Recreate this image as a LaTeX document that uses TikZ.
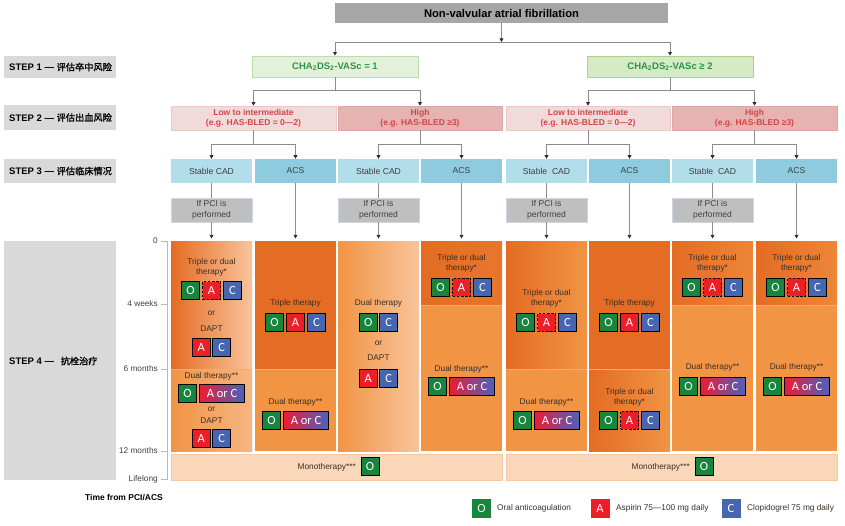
\documentclass[tikz,border=0pt]{standalone}
\usepackage{fontspec}
\setmainfont{Liberation Sans}
\newfontfamily\cjk[FakeBold=1.2]{Noto Sans CJK SC}
\newfontfamily\lettf{Carlito}
\usetikzlibrary{arrows.meta}
\definecolor{topgray}{RGB}{166,166,166}
\definecolor{stepg}{RGB}{217,217,217}
\definecolor{chaAf}{RGB}{228,241,218}
\definecolor{chaAd}{RGB}{190,222,168}
\definecolor{chaBf}{RGB}{214,234,198}
\definecolor{chaBd}{RGB}{170,210,140}
\definecolor{chat}{RGB}{40,150,65}
\definecolor{lowf}{RGB}{243,218,218}
\definecolor{lowd}{RGB}{238,200,200}
\definecolor{highf}{RGB}{230,178,178}
\definecolor{highd}{RGB}{224,165,165}
\definecolor{redt}{RGB}{208,72,72}
\definecolor{scf}{RGB}{178,221,234}
\definecolor{acsf}{RGB}{142,203,222}
\definecolor{pcif}{RGB}{191,191,191}
\definecolor{pcid}{RGB}{205,215,230}
\definecolor{txt}{RGB}{64,64,64}
\definecolor{coltxt}{RGB}{58,46,38}
\definecolor{lineg}{RGB}{140,140,140}
\definecolor{arrowc}{RGB}{45,45,45}
\definecolor{oD}{RGB}{228,108,36}
\definecolor{oM}{RGB}{241,148,68}
\definecolor{oL}{RGB}{248,196,155}
\definecolor{oLL}{RGB}{246,182,130}
\definecolor{peach}{RGB}{251,215,185}
\definecolor{peachd}{RGB}{246,200,165}
\definecolor{sepc}{RGB}{246,172,112}
\definecolor{axisg}{RGB}{185,185,185}
\definecolor{cO}{RGB}{22,133,62}
\definecolor{cA}{RGB}{236,30,38}
\definecolor{cC}{RGB}{70,102,178}
\definecolor{cAr}{RGB}{236,28,52}
\definecolor{cMg}{RGB}{224,36,150}
\definecolor{cCr}{RGB}{74,98,190}
\newcommand\TripleSet[4]{\node[oac] (#1O) at ({#2-21},#3) {O};\node[#4] (#1A) at (#2,#3) {A};\node[clo] (#1C) at ({#2+21},#3) {C};}
\newcommand\PairAC[3]{\node[asp] (#1A) at ({#2-10.25},#3) {A};\node[clo] (#1C) at ({#2+10.25},#3) {C};}
\newcommand\PairOC[3]{\node[oac] (#1O) at ({#2-10.25},#3) {O};\node[clo] (#1C) at ({#2+10.25},#3) {C};}
\newcommand\PairOAC[3]{\node[oac] (#1O) at ({#2-24},#3) {O};\node[aorc] (#1X) at ({#2+10.5},#3) {A or C};}
\begin{document}
\begin{tikzpicture}[x=1pt,y=-1pt,
  line/.style={draw=lineg,line width=0.8pt},
  arr/.style={line,-{Triangle[length=3.6pt,width=3.8pt,color=arrowc]}},
  lbl/.style={inner sep=0,align=center,text=coltxt,font=\fontsize{8.3}{10}\selectfont},
  drug/.style={draw=black,line width=0.9pt,minimum width=18pt,minimum height=18pt,inner sep=0,outer sep=0,text=white,font=\lettf\fontsize{12.5}{12.5}\selectfont},
  oac/.style={drug,fill=cO},
  asp/.style={drug,fill=cA},
  aspd/.style={drug,fill=cA,dashed,dash pattern=on 2.6pt off 1.6pt},
  clo/.style={drug,fill=cC},
  aorc/.style={drug,minimum width=45pt,left color=cAr,middle color=cMg,right color=cCr},
  legbox/.style={minimum width=19pt,minimum height=19pt,inner sep=0,text=white,font=\lettf\fontsize{12.5}{12.5}\selectfont},
  legtxt/.style={inner sep=0,anchor=west,text=coltxt,font=\fontsize{8.3}{10}\selectfont},
  seg/.style={inner sep=0,outer sep=0,minimum width=81pt},
  sep/.style={draw=sepc,line width=0.8pt},
  stepbox/.style={fill=stepg,minimum width=112pt,inner sep=0,outer sep=0},
  steptxt/.style={inner sep=0,anchor=west,text=black,font=\bfseries\fontsize{9.5}{11}\selectfont},
  chab/.style={minimum width=166pt,minimum height=21pt,line width=0.8pt,inner sep=0,text=chat,font=\bfseries\fontsize{9.5}{11}\selectfont},
  riskb/.style={line width=0.6pt,minimum height=24pt,inner sep=0,align=center,text=redt,font=\bfseries\fontsize{8.5}{10}\selectfont},
  clin/.style={minimum width=81pt,minimum height=24pt,inner sep=0,text=txt,font=\fontsize{8.6}{10}\selectfont},
  pci/.style={fill=pcif,draw=pcid,line width=0.6pt,minimum width=81pt,minimum height=24pt,inner sep=0,align=center,text=txt,font=\fontsize{8.5}{10.5}\selectfont},
  axis/.style={draw=axisg,line width=0.8pt},
  tick/.style={inner sep=0,anchor=east,text=txt,font=\fontsize{8.3}{10}\selectfont}]
\useasboundingbox (0,0) rectangle (845,525);

% step labels
\node[stepbox,minimum height=22pt] (s1) at (60,67) {};
\node[steptxt] (s1t) at (9,67) {STEP 1 — {\mdseries\cjk\fontsize{9.2}{11}\selectfont 评估卒中风险}};
\node[stepbox,minimum height=25pt] (s2) at (60,117.5) {};
\node[steptxt] (s2t) at (9,117.5) {STEP 2 — {\mdseries\cjk\fontsize{9.2}{11}\selectfont 评估出血风险}};
\node[stepbox,minimum height=24pt] (s3) at (60,171) {};
\node[steptxt] (s3t) at (9,171) {STEP 3 — {\mdseries\cjk\fontsize{9.2}{11}\selectfont 评估临床情况}};
\node[stepbox,minimum height=239pt] (s4) at (60,360.5) {};
\node[steptxt] (s4t) at (9,361) {STEP 4 —\hspace{4pt} {\mdseries\cjk\fontsize{9.2}{11}\selectfont 抗栓治疗}};

% top
\node[fill=topgray,minimum width=333pt,minimum height=20pt,inner sep=0,font=\bfseries\fontsize{11.2}{13}\selectfont] (nvaf) at (501.5,13) {Non-valvular atrial fibrillation};
\node[chab,fill=chaAf,draw=chaAd] (cha1) at (335,66.5) {CHA\textsubscript{2}DS\textsubscript{2}-VASc = 1};
\node[chab,fill=chaBf,draw=chaBd] (cha2) at (670,66.5) {CHA\textsubscript{2}DS\textsubscript{2}-VASc ≥ 2};

% step 2
\node[riskb,fill=lowf,draw=lowd,minimum width=165pt] (low1) at (253.5,118) {Low to intermediate\\(e.g. HAS-BLED = 0—2)};
\node[riskb,fill=highf,draw=highd,minimum width=164pt] (high1) at (420,118) {High\\(e.g. HAS-BLED ≥3)};
\node[riskb,fill=lowf,draw=lowd,minimum width=164pt] (low2) at (588,118) {Low to intermediate\\(e.g. HAS-BLED = 0—2)};
\node[riskb,fill=highf,draw=highd,minimum width=165pt] (high2) at (754.5,118) {High\\(e.g. HAS-BLED ≥3)};

% step 3
\node[clin,fill=scf] (sc1) at (211.5,171) {Stable CAD};
\node[clin,fill=acsf] (acs1) at (295.5,171) {ACS};
\node[clin,fill=scf] (sc2) at (378.5,171) {Stable CAD};
\node[clin,fill=acsf] (acs2) at (461.5,171) {ACS};
\node[clin,fill=scf] (sc3) at (546.5,171) {Stable\ \ CAD};
\node[clin,fill=acsf] (acs3) at (629.5,171) {ACS};
\node[clin,fill=scf] (sc4) at (712.5,171) {Stable\ \ CAD};
\node[clin,fill=acsf] (acs4) at (796.5,171) {ACS};

\node[pci] (pci1) at (211.5,210) {If PCI is\\performed};
\node[pci] (pci2) at (378.5,210) {If PCI is\\performed};
\node[pci] (pci3) at (546.5,210) {If PCI is\\performed};
\node[pci] (pci4) at (712.5,210) {If PCI is\\performed};

% step 4 segments
\node[seg,minimum height=128pt,left color=oD,right color=oL] (c1t) at (211.5,305) {};
\node[seg,minimum height=82pt,left color=oM,right color=oLL] (c1b) at (211.5,410) {};
\node[seg,minimum height=128pt,fill=oD] (c2t) at (295.5,305) {};
\node[seg,minimum height=82pt,fill=oM] (c2b) at (295.5,410) {};
\node[seg,minimum height=210pt,left color=oM,right color=oL] (c3t) at (378.5,346) {};
\node[seg,minimum height=64pt,left color=oD,right color=oD!75!oM] (c4t) at (461.5,273) {};
\node[seg,minimum height=146pt,fill=oM] (c4b) at (461.5,378) {};
\node[seg,minimum height=128pt,left color=oD,right color=oM] (c5t) at (546.5,305) {};
\node[seg,minimum height=82pt,fill=oM] (c5b) at (546.5,410) {};
\node[seg,minimum height=128pt,fill=oD] (c6t) at (629.5,305) {};
\node[seg,minimum height=82pt,left color=oD,right color=oM] (c6b) at (629.5,410) {};
\node[seg,minimum height=64pt,left color=oD,right color=oD!35!oM] (c7t) at (712.5,273) {};
\node[seg,minimum height=146pt,fill=oM] (c7b) at (712.5,378) {};
\node[seg,minimum height=64pt,left color=oD,right color=oD!35!oM] (c8t) at (796.5,273) {};
\node[seg,minimum height=146pt,fill=oM] (c8b) at (796.5,378) {};
\foreach \s in {c1t,c2t,c4t,c5t,c6t,c7t,c8t}{\draw[sep] (\s.south west) -- (\s.south east);}

% monotherapy bands
\node[fill=peach,draw=peachd,line width=0.6pt,minimum width=331pt,minimum height=26pt,inner sep=0] (mono1) at (336.5,467) {};
\node[fill=peach,draw=peachd,line width=0.6pt,minimum width=331pt,minimum height=26pt,inner sep=0] (mono2) at (671.5,467) {};
\node[lbl,anchor=east] (mt1) at (356,467) {Monotherapy***};
\node[oac] (mo1) at (370,466) {O};
\node[lbl,anchor=east] (mt2) at (690,467) {Monotherapy***};
\node[oac] (mo2) at (704,466) {O};

% column contents
\node[lbl] (t1a) at (211.5,267) {Triple or dual\\therapy*};
\TripleSet{k1a}{211.5}{290.5}{aspd}
\node[lbl] (t1or) at (211.5,313) {or};
\node[lbl] (t1d) at (211.5,329) {DAPT};
\PairAC{k1b}{211.5}{347.5}
\node[lbl] (t1e) at (211.5,376) {Dual therapy**};
\PairOAC{k1c}{211.5}{393}
\node[lbl] (t1or2) at (211.5,409) {or};
\node[lbl] (t1f) at (211.5,421) {DAPT};
\PairAC{k1d}{211.5}{438.5}

\node[lbl] (t2a) at (295.5,303) {Triple therapy};
\TripleSet{k2a}{295.5}{322.5}{asp}
\node[lbl] (t2b) at (295.5,402) {Dual therapy**};
\PairOAC{k2b}{295.5}{420}

\node[lbl] (t3a) at (378.5,303) {Dual therapy};
\PairOC{k3a}{378.5}{322.5}
\node[lbl] (t3or) at (378.5,343) {or};
\node[lbl] (t3d) at (378.5,358) {DAPT};
\PairAC{k3b}{378.5}{378}

\node[lbl] (t4a) at (461.5,263) {Triple or dual\\therapy*};
\TripleSet{k4a}{461.5}{287}{aspd}
\node[lbl] (t4b) at (461.5,369) {Dual therapy**};
\PairOAC{k4b}{461.5}{386.5}

\node[lbl] (t5a) at (546.5,298) {Triple or dual\\therapy*};
\TripleSet{k5a}{546.5}{322.5}{aspd}
\node[lbl] (t5b) at (546.5,402) {Dual therapy**};
\PairOAC{k5b}{546.5}{420}

\node[lbl] (t6a) at (629.5,303) {Triple therapy};
\TripleSet{k6a}{629.5}{322.5}{asp}
\node[lbl] (t6b) at (629.5,397.5) {Triple or dual\\therapy*};
\TripleSet{k6b}{629.5}{420}{aspd}

\node[lbl] (t7a) at (712.5,263) {Triple or dual\\therapy*};
\TripleSet{k7a}{712.5}{287}{aspd}
\node[lbl] (t7b) at (712.5,367) {Dual therapy**};
\PairOAC{k7b}{712.5}{386}

\node[lbl] (t8a) at (796.5,263) {Triple or dual\\therapy*};
\TripleSet{k8a}{796.5}{287}{aspd}
\node[lbl] (t8b) at (796.5,367) {Dual therapy**};
\PairOAC{k8b}{796.5}{386}

% connectors
\coordinate (j0) at (501.5,42);
\draw[arr] (nvaf) -- (j0);
\draw[arr] (j0) -| (cha1);
\draw[arr] (j0) -| (cha2);
\coordinate (j1) at (335,90);
\draw[line] (cha1) -- (j1);
\draw[arr] (j1) -| (low1);
\draw[arr] (j1) -| (high1);
\coordinate (j2) at (670,90);
\draw[line] (cha2) -- (j2);
\draw[arr] (j2) -| (low2);
\draw[arr] (j2) -| (high2);
\coordinate (j3) at (253.5,144);
\draw[line] (low1) -- (j3);
\draw[arr] (j3) -| (sc1);
\draw[arr] (j3) -| (acs1);
\coordinate (j4) at (420,144);
\draw[line] (high1) -- (j4);
\draw[arr] (j4) -| (sc2);
\draw[arr] (j4) -| (acs2);
\coordinate (j5) at (588,144);
\draw[line] (low2) -- (j5);
\draw[arr] (j5) -| (sc3);
\draw[arr] (j5) -| (acs3);
\coordinate (j6) at (754.5,144);
\draw[line] (high2) -- (j6);
\draw[arr] (j6) -| (sc4);
\draw[arr] (j6) -| (acs4);
\draw[line] (sc1) -- (pci1);
\draw[line] (sc2) -- (pci2);
\draw[line] (sc3) -- (pci3);
\draw[line] (sc4) -- (pci4);
\draw[arr,shorten >=2.5pt] (pci1) -- (c1t);
\draw[arr,shorten >=2.5pt] (acs1) -- (c2t);
\draw[arr,shorten >=2.5pt] (pci2) -- (c3t);
\draw[arr,shorten >=2.5pt] (acs2) -- (c4t);
\draw[arr,shorten >=2.5pt] (pci3) -- (c5t);
\draw[arr,shorten >=2.5pt] (acs3) -- (c6t);
\draw[arr,shorten >=2.5pt] (pci4) -- (c7t);
\draw[arr,shorten >=2.5pt] (acs4) -- (c8t);

% time axis
\coordinate (ax0) at (167,241);
\coordinate (ax1) at (167,480);
\draw[axis] (ax0) -- (ax1);
\foreach \yy/\nm/\tx in {241/tk0/0,304/tk1/4 weeks,369/tk2/6 months,451/tk3/12 months,479/tk4/Lifelong}{
  \draw[axis] (161,\yy) -- (167,\yy);
  \node[tick] (\nm) at (158,\yy) {\tx};}
\node[inner sep=0,text=black,font=\bfseries\fontsize{8.5}{10}\selectfont] (tfp) at (124,497) {Time from PCI/ACS};

% legend
\node[legbox,fill=cO] (lgO) at (481.5,508) {O};
\node[legtxt] (lgOt) at (497,508) {Oral anticoagulation};
\node[legbox,fill=cA] (lgA) at (600,508) {A};
\node[legtxt] (lgAt) at (616,508) {Aspirin 75—100 mg daily};
\node[legbox,fill=cC] (lgC) at (731,508) {C};
\node[legtxt] (lgCt) at (747,508) {Clopidogrel 75 mg daily};
\end{tikzpicture}
\end{document}
